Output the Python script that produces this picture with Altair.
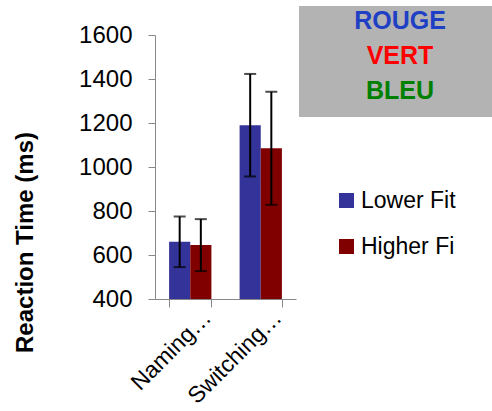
import altair as alt
import pandas as pd

categories = ["Naming…", "Switching…"]
series = ["Lower Fit", "Higher Fi"]
series_colors = ["#333399", "#800000"]
lower_fit = [660, 1190]
higher_fit = [645, 1085]
lower_err = [115, 233]
higher_err = [118, 257]
y_ticks = [400, 600, 800, 1000, 1200, 1400, 1600]
box_words = ["ROUGE", "VERT", "BLEU"]
box_colors = ["#1f3fc4", "#ff0000", "#008000"]

rows = []
for s, vals, errs in zip(series, [lower_fit, higher_fit], [lower_err, higher_err]):
    for c, v, e in zip(categories, vals, errs):
        rows.append({"cat": c, "series": s, "mean": v, "lo": v - e, "hi": v + e})
df = pd.DataFrame(rows)

FONT = "Liberation Sans"
AXIS_GRAY = "#888888"

x_enc = alt.X(
    "cat:N",
    sort=categories,
    scale=alt.Scale(paddingInner=0.4, paddingOuter=0.2),
    axis=alt.Axis(
        title=None,
        labelAngle=-45,
        labelAlign="right",
        labelBaseline="top",
        labelFontSize=23,
        labelFont=FONT,
        labelColor="black",
        labelOffset=9,
        labelPadding=-1,
        tickBand="extent",
        tickSize=8,
        domainColor=AXIS_GRAY,
        tickColor=AXIS_GRAY,
    ),
)
xo_enc = alt.XOffset("series:N", sort=series, scale=alt.Scale(paddingInner=0, paddingOuter=0))

y_scale = alt.Scale(domain=[400, 1600], nice=False, zero=False)

base = alt.Chart(df)

bars = base.mark_bar().encode(
    x=x_enc,
    xOffset=xo_enc,
    y=alt.Y(
        "mean:Q",
        scale=y_scale,
        axis=alt.Axis(
            values=y_ticks,
            format="d",
            title="Reaction Time (ms)",
            titleFont=FONT,
            titleFontSize=24,
            titleFontWeight="bold",
            titleColor="black",
            titleX=-118,
            titleY=207,
            titleAlign="center",
            titleAngle=270,
            labelFont=FONT,
            labelFontSize=24,
            labelColor="black",
            labelPadding=16,
            tickSize=7,
            grid=False,
            domainColor=AXIS_GRAY,
            tickColor=AXIS_GRAY,
        ),
    ),
    y2=alt.datum(400),
    color=alt.Color(
        "series:N",
        sort=series,
        scale=alt.Scale(domain=series, range=series_colors),
        legend=alt.Legend(
            title=None,
            orient="none",
            legendX=180,
            legendY=154,
            symbolType="square",
            symbolSize=225,
            symbolStrokeWidth=0,
            labelFont=FONT,
            labelFontSize=23,
            labelColor="black",
            labelOffset=3,
            rowPadding=22,
            padding=0,
        ),
    ),
)

rules = base.mark_rule(color="black", strokeWidth=2).encode(
    x=alt.X("cat:N", sort=categories),
    xOffset=alt.XOffset("series:N", sort=series),
    y=alt.Y("lo:Q"),
    y2="hi:Q",
)
cap_lo = base.mark_tick(color="black", thickness=2, size=12).encode(
    x=alt.X("cat:N", sort=categories),
    xOffset=alt.XOffset("series:N", sort=series),
    y=alt.Y("lo:Q"),
)
cap_hi = base.mark_tick(color="black", thickness=2, size=12).encode(
    x=alt.X("cat:N", sort=categories),
    xOffset=alt.XOffset("series:N", sort=series),
    y=alt.Y("hi:Q"),
)

one = alt.Data(values=[{"k": 1}])
box = alt.Chart(one).mark_rect(color="#b3b3b3", clip=False).encode(
    x=alt.value(144), x2=alt.value(337), y=alt.value(-29), y2=alt.value(82)
)
words = []
for i, (w, c) in enumerate(zip(box_words, box_colors)):
    words.append(
        alt.Chart(one).mark_text(
            text=w, color=c, font=FONT, fontSize=25, fontWeight="bold",
            align="center", baseline="middle", clip=False,
        ).encode(x=alt.value(245), y=alt.value(-14 + i * 35))
    )

chart = alt.layer(bars, rules, cap_lo, cap_hi, box, *words).properties(
    width=141,
    height=264,
    padding={"left": 155, "top": 35, "right": 196, "bottom": 112},
    autosize=alt.AutoSizeParams(type="none"),
    background="white",
).configure_view(stroke=None)

chart.save("out.html", embed_options={"renderer": "svg", "actions": False})
